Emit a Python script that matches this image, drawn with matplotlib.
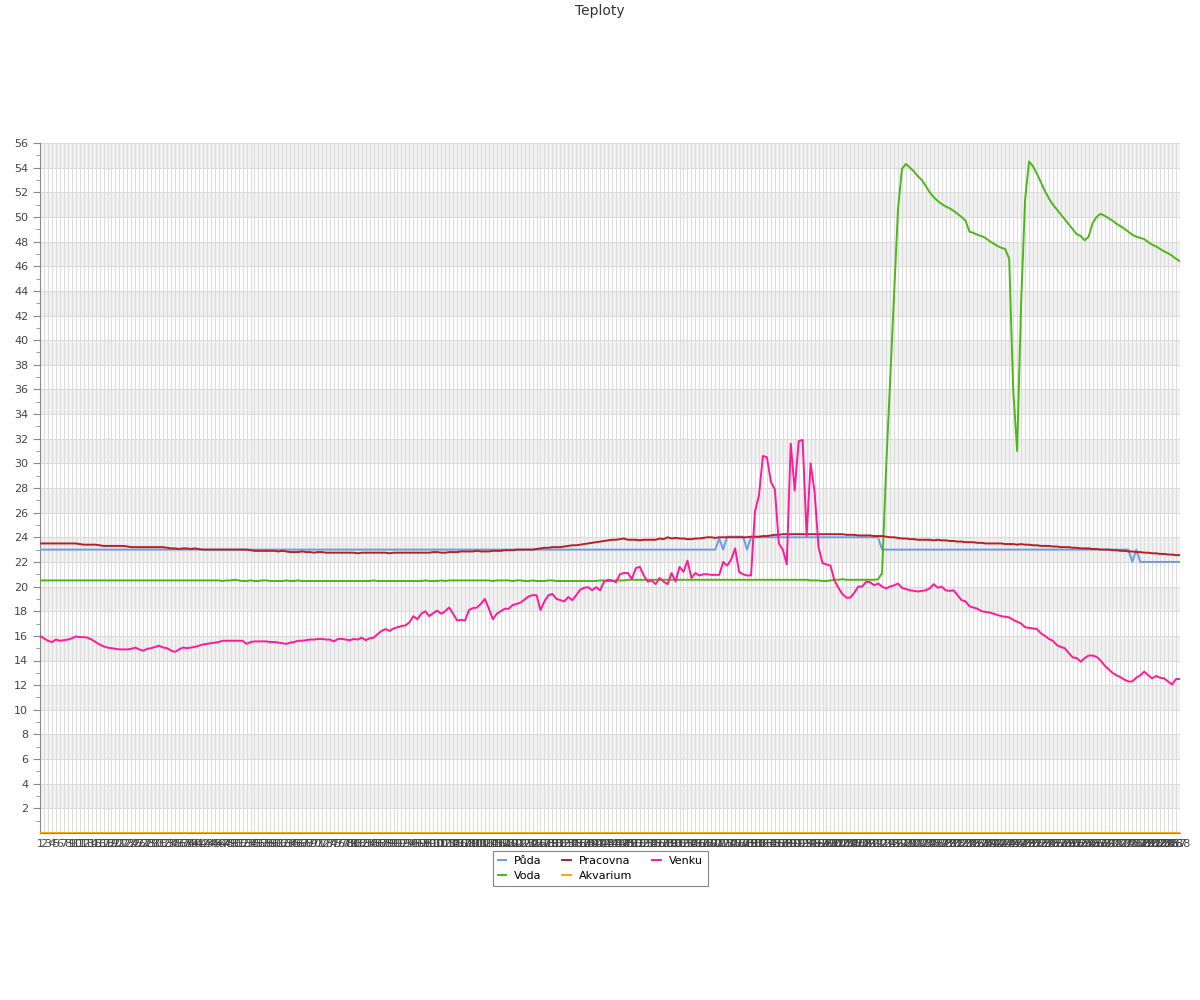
import matplotlib
matplotlib.use("Agg")
import matplotlib.pyplot as plt

# measurement index 1..288
labels = [str(i) for i in range(1, 289)]

# each row = 24 readings
puda = [
    23.0, 23.0, 23.0, 23.0, 23.0, 23.0, 23.0, 23.0, 23.0, 23.0, 23.0, 23.0, 23.0, 23.0, 23.0, 23.0, 23.0, 23.0, 23.0, 23.0, 23.0, 23.0, 23.0, 23.0,
    23.0, 23.0, 23.0, 23.0, 23.0, 23.0, 23.0, 23.0, 23.0, 23.0, 23.0, 23.0, 23.0, 23.0, 23.0, 23.0, 23.0, 23.0, 23.0, 23.0, 23.0, 23.0, 23.0, 23.0,
    23.0, 23.0, 23.0, 23.0, 23.0, 23.0, 23.0, 23.0, 23.0, 23.0, 23.0, 23.0, 23.0, 23.0, 23.0, 23.0, 23.0, 23.0, 23.0, 23.0, 23.0, 23.0, 23.0, 23.0,
    23.0, 23.0, 23.0, 23.0, 23.0, 23.0, 23.0, 23.0, 23.0, 23.0, 23.0, 23.0, 23.0, 23.0, 23.0, 23.0, 23.0, 23.0, 23.0, 23.0, 23.0, 23.0, 23.0, 23.0,
    23.0, 23.0, 23.0, 23.0, 23.0, 23.0, 23.0, 23.0, 23.0, 23.0, 23.0, 23.0, 23.0, 23.0, 23.0, 23.0, 23.0, 23.0, 23.0, 23.0, 23.0, 23.0, 23.0, 23.0,
    23.0, 23.0, 23.0, 23.0, 23.0, 23.0, 23.0, 23.0, 23.0, 23.0, 23.0, 23.0, 23.0, 23.0, 23.0, 23.0, 23.0, 23.0, 23.0, 23.0, 23.0, 23.0, 23.0, 23.0,
    23.0, 23.0, 23.0, 23.0, 23.0, 23.0, 23.0, 23.0, 23.0, 23.0, 23.0, 23.0, 23.0, 23.0, 23.0, 23.0, 23.0, 23.0, 23.0, 23.0, 23.0, 23.0, 23.0, 23.0,
    23.0, 23.0, 23.0, 23.9, 23.0, 24.05, 24.05, 24.05, 24.05, 24.05, 23.0, 24.0, 24.0, 24.0, 24.0, 24.0, 24.0, 24.0, 24.0, 24.0, 24.0, 24.0, 24.0, 24.0,
    24.0, 24.0, 24.0, 24.0, 24.0, 24.0, 24.0, 24.0, 24.0, 24.0, 24.0, 24.0, 24.0, 24.0, 24.0, 24.0, 24.0, 24.0, 24.0, 24.0, 23.0, 23.0, 23.0, 23.0,
    23.0, 23.0, 23.0, 23.0, 23.0, 23.0, 23.0, 23.0, 23.0, 23.0, 23.0, 23.0, 23.0, 23.0, 23.0, 23.0, 23.0, 23.0, 23.0, 23.0, 23.0, 23.0, 23.0, 23.0,
    23.0, 23.0, 23.0, 23.0, 23.0, 23.0, 23.0, 23.0, 23.0, 23.0, 23.0, 23.0, 23.0, 23.0, 23.0, 23.0, 23.0, 23.0, 23.0, 23.0, 23.0, 23.0, 23.0, 23.0,
    23.0, 23.0, 23.0, 23.0, 23.0, 23.0, 23.0, 23.0, 23.0, 23.0, 23.0, 22.0, 23.0, 22.0, 22.0, 22.0, 22.0, 22.0, 22.0, 22.0, 22.0, 22.0, 22.0, 22.0,
]

voda = [
    20.5, 20.5, 20.5, 20.5, 20.5, 20.5, 20.5, 20.5, 20.5, 20.5, 20.5, 20.5, 20.5, 20.5, 20.5, 20.5, 20.5, 20.5, 20.5, 20.5, 20.5, 20.5, 20.5, 20.5,
    20.5, 20.5, 20.5, 20.5, 20.5, 20.5, 20.5, 20.5, 20.5, 20.5, 20.5, 20.5, 20.5, 20.5, 20.5, 20.5, 20.5, 20.5, 20.5, 20.5, 20.5, 20.5, 20.45, 20.5,
    20.5, 20.55, 20.5, 20.45, 20.45, 20.5, 20.45, 20.45, 20.5, 20.5, 20.45, 20.45, 20.45, 20.45, 20.5, 20.45, 20.45, 20.5, 20.45, 20.45, 20.45, 20.45, 20.45, 20.45,
    20.45, 20.45, 20.45, 20.45, 20.45, 20.45, 20.45, 20.45, 20.45, 20.45, 20.45, 20.45, 20.5, 20.45, 20.45, 20.45, 20.45, 20.45, 20.45, 20.45, 20.45, 20.45, 20.45, 20.45,
    20.45, 20.5, 20.45, 20.45, 20.45, 20.5, 20.45, 20.5, 20.5, 20.5, 20.5, 20.5, 20.5, 20.5, 20.5, 20.5, 20.5, 20.5, 20.45, 20.5, 20.5, 20.5, 20.5, 20.45,
    20.5, 20.5, 20.45, 20.45, 20.5, 20.45, 20.45, 20.45, 20.5, 20.5, 20.45, 20.45, 20.45, 20.45, 20.45, 20.45, 20.45, 20.45, 20.45, 20.45, 20.45, 20.5, 20.5, 20.45,
    20.45, 20.5, 20.5, 20.5, 20.55, 20.55, 20.55, 20.55, 20.55, 20.55, 20.55, 20.55, 20.55, 20.55, 20.55, 20.55, 20.55, 20.55, 20.55, 20.55, 20.55, 20.55, 20.55, 20.55,
    20.55, 20.55, 20.55, 20.55, 20.55, 20.55, 20.55, 20.55, 20.55, 20.55, 20.55, 20.55, 20.55, 20.55, 20.55, 20.55, 20.55, 20.55, 20.55, 20.55, 20.55, 20.55, 20.55, 20.55,
    20.55, 20.55, 20.5, 20.5, 20.5, 20.45, 20.45, 20.5, 20.55, 20.55, 20.6, 20.55, 20.55, 20.55, 20.55, 20.55, 20.55, 20.55, 20.55, 20.6, 21.1, 29.5, 36.5, 43.5,
    50.6, 53.9, 54.3, 54.0, 53.7, 53.3, 53.0, 52.5, 52.0, 51.6, 51.3, 51.05, 50.85, 50.7, 50.5, 50.25, 50.0, 49.7, 48.8, 48.7, 48.55, 48.45, 48.3, 48.05,
    47.85, 47.65, 47.5, 47.4, 46.6, 36.0, 31.0, 43.0, 51.4, 54.5, 54.1, 53.5, 52.8, 52.1, 51.5, 51.0, 50.6, 50.2, 49.8, 49.4, 49.0, 48.6, 48.45, 48.1,
    48.4, 49.5, 50.0, 50.25, 50.1, 49.9, 49.7, 49.45, 49.25, 49.05, 48.8, 48.55, 48.4, 48.3, 48.2, 47.95, 47.75, 47.6, 47.4, 47.2, 47.05, 46.85, 46.6, 46.4,
]

pracovna = [
    23.5, 23.5, 23.5, 23.5, 23.5, 23.5, 23.5, 23.5, 23.5, 23.5, 23.45, 23.4, 23.4, 23.4, 23.4, 23.35, 23.3, 23.3, 23.3, 23.3, 23.3, 23.3, 23.25, 23.2,
    23.2, 23.2, 23.2, 23.2, 23.2, 23.2, 23.2, 23.2, 23.15, 23.1, 23.1, 23.05, 23.1, 23.1, 23.05, 23.1, 23.05, 23.0, 23.0, 23.0, 23.0, 23.0, 23.0, 23.0,
    23.0, 23.0, 23.0, 23.0, 23.0, 22.95, 22.9, 22.9, 22.9, 22.9, 22.9, 22.9, 22.85, 22.9, 22.85, 22.8, 22.8, 22.8, 22.85, 22.8, 22.8, 22.75, 22.8, 22.8,
    22.75, 22.75, 22.75, 22.75, 22.75, 22.75, 22.75, 22.75, 22.7, 22.75, 22.75, 22.75, 22.75, 22.75, 22.75, 22.75, 22.7, 22.75, 22.75, 22.75, 22.75, 22.75, 22.75, 22.75,
    22.75, 22.75, 22.75, 22.8, 22.8, 22.75, 22.75, 22.8, 22.8, 22.8, 22.85, 22.85, 22.85, 22.85, 22.9, 22.85, 22.85, 22.85, 22.9, 22.9, 22.9, 22.95, 22.95, 22.95,
    23.0, 23.0, 23.0, 23.0, 23.0, 23.05, 23.1, 23.15, 23.15, 23.2, 23.2, 23.2, 23.25, 23.3, 23.35, 23.35, 23.4, 23.45, 23.5, 23.55, 23.6, 23.65, 23.7, 23.75,
    23.8, 23.8, 23.85, 23.9, 23.8, 23.8, 23.8, 23.75, 23.8, 23.8, 23.8, 23.8, 23.9, 23.85, 24.0, 23.9, 23.95, 23.9, 23.9, 23.85, 23.85, 23.9, 23.9, 23.95,
    24.0, 24.0, 23.95, 24.0, 24.0, 24.0, 24.0, 24.0, 24.0, 24.0, 24.0, 24.05, 24.05, 24.05, 24.1, 24.1, 24.15, 24.2, 24.2, 24.25, 24.25, 24.25, 24.25, 24.25,
    24.25, 24.25, 24.25, 24.25, 24.25, 24.25, 24.25, 24.25, 24.25, 24.25, 24.25, 24.2, 24.2, 24.2, 24.15, 24.15, 24.15, 24.15, 24.1, 24.1, 24.1, 24.05, 24.0, 24.0,
    23.95, 23.9, 23.9, 23.85, 23.85, 23.8, 23.8, 23.8, 23.8, 23.75, 23.8, 23.75, 23.75, 23.7, 23.7, 23.65, 23.65, 23.6, 23.6, 23.6, 23.55, 23.55, 23.5, 23.5,
    23.5, 23.5, 23.5, 23.45, 23.45, 23.45, 23.4, 23.45, 23.4, 23.4, 23.35, 23.35, 23.3, 23.3, 23.3, 23.25, 23.25, 23.2, 23.2, 23.2, 23.15, 23.15, 23.1, 23.1,
    23.1, 23.05, 23.05, 23.0, 23.0, 23.0, 22.95, 22.95, 22.9, 22.9, 22.85, 22.85, 22.8, 22.8, 22.75, 22.75, 22.7, 22.7, 22.65, 22.65, 22.6, 22.6, 22.55, 22.55,
]

akvarium = [
    0.0, 0.0, 0.0, 0.0, 0.0, 0.0, 0.0, 0.0, 0.0, 0.0, 0.0, 0.0, 0.0, 0.0, 0.0, 0.0, 0.0, 0.0, 0.0, 0.0, 0.0, 0.0, 0.0, 0.0,
    0.0, 0.0, 0.0, 0.0, 0.0, 0.0, 0.0, 0.0, 0.0, 0.0, 0.0, 0.0, 0.0, 0.0, 0.0, 0.0, 0.0, 0.0, 0.0, 0.0, 0.0, 0.0, 0.0, 0.0,
    0.0, 0.0, 0.0, 0.0, 0.0, 0.0, 0.0, 0.0, 0.0, 0.0, 0.0, 0.0, 0.0, 0.0, 0.0, 0.0, 0.0, 0.0, 0.0, 0.0, 0.0, 0.0, 0.0, 0.0,
    0.0, 0.0, 0.0, 0.0, 0.0, 0.0, 0.0, 0.0, 0.0, 0.0, 0.0, 0.0, 0.0, 0.0, 0.0, 0.0, 0.0, 0.0, 0.0, 0.0, 0.0, 0.0, 0.0, 0.0,
    0.0, 0.0, 0.0, 0.0, 0.0, 0.0, 0.0, 0.0, 0.0, 0.0, 0.0, 0.0, 0.0, 0.0, 0.0, 0.0, 0.0, 0.0, 0.0, 0.0, 0.0, 0.0, 0.0, 0.0,
    0.0, 0.0, 0.0, 0.0, 0.0, 0.0, 0.0, 0.0, 0.0, 0.0, 0.0, 0.0, 0.0, 0.0, 0.0, 0.0, 0.0, 0.0, 0.0, 0.0, 0.0, 0.0, 0.0, 0.0,
    0.0, 0.0, 0.0, 0.0, 0.0, 0.0, 0.0, 0.0, 0.0, 0.0, 0.0, 0.0, 0.0, 0.0, 0.0, 0.0, 0.0, 0.0, 0.0, 0.0, 0.0, 0.0, 0.0, 0.0,
    0.0, 0.0, 0.0, 0.0, 0.0, 0.0, 0.0, 0.0, 0.0, 0.0, 0.0, 0.0, 0.0, 0.0, 0.0, 0.0, 0.0, 0.0, 0.0, 0.0, 0.0, 0.0, 0.0, 0.0,
    0.0, 0.0, 0.0, 0.0, 0.0, 0.0, 0.0, 0.0, 0.0, 0.0, 0.0, 0.0, 0.0, 0.0, 0.0, 0.0, 0.0, 0.0, 0.0, 0.0, 0.0, 0.0, 0.0, 0.0,
    0.0, 0.0, 0.0, 0.0, 0.0, 0.0, 0.0, 0.0, 0.0, 0.0, 0.0, 0.0, 0.0, 0.0, 0.0, 0.0, 0.0, 0.0, 0.0, 0.0, 0.0, 0.0, 0.0, 0.0,
    0.0, 0.0, 0.0, 0.0, 0.0, 0.0, 0.0, 0.0, 0.0, 0.0, 0.0, 0.0, 0.0, 0.0, 0.0, 0.0, 0.0, 0.0, 0.0, 0.0, 0.0, 0.0, 0.0, 0.0,
    0.0, 0.0, 0.0, 0.0, 0.0, 0.0, 0.0, 0.0, 0.0, 0.0, 0.0, 0.0, 0.0, 0.0, 0.0, 0.0, 0.0, 0.0, 0.0, 0.0, 0.0, 0.0, 0.0, 0.0,
]

venku = [
    16.0, 15.8, 15.6, 15.5, 15.7, 15.6, 15.65, 15.7, 15.8, 15.95, 15.9, 15.9, 15.85, 15.7, 15.5, 15.3, 15.15, 15.05, 15.0, 14.95, 14.9, 14.9, 14.9, 14.95,
    15.05, 14.9, 14.8, 14.95, 15.0, 15.1, 15.2, 15.05, 15.0, 14.8, 14.7, 14.9, 15.05, 15.0, 15.05, 15.1, 15.2, 15.3, 15.35, 15.4, 15.45, 15.5, 15.6, 15.6,
    15.6, 15.6, 15.6, 15.6, 15.35, 15.5, 15.55, 15.55, 15.55, 15.55, 15.5, 15.5, 15.45, 15.4, 15.35, 15.45, 15.5, 15.6, 15.6, 15.65, 15.7, 15.7, 15.75, 15.75,
    15.7, 15.7, 15.55, 15.75, 15.75, 15.7, 15.65, 15.75, 15.7, 15.85, 15.65, 15.8, 15.85, 16.15, 16.4, 16.55, 16.4, 16.6, 16.7, 16.8, 16.85, 17.1, 17.6, 17.35,
    17.8, 18.0, 17.6, 17.85, 18.05, 17.8, 18.0, 18.3, 17.8, 17.25, 17.3, 17.25, 18.1, 18.25, 18.3, 18.6, 19.0, 18.2, 17.35, 17.8, 18.0, 18.2, 18.2, 18.5,
    18.6, 18.7, 18.95, 19.2, 19.3, 19.3, 18.1, 18.8, 19.3, 19.4, 19.0, 18.9, 18.8, 19.15, 18.9, 19.3, 19.75, 19.9, 19.95, 19.7, 19.95, 19.7, 20.4, 20.55,
    20.5, 20.35, 21.0, 21.1, 21.1, 20.6, 21.5, 21.6, 20.9, 20.4, 20.5, 20.2, 20.7, 20.4, 20.2, 21.1, 20.4, 21.6, 21.2, 22.1, 20.7, 21.1, 20.9, 21.0,
    21.0, 20.95, 20.95, 20.95, 22.0, 21.7, 22.2, 23.1, 21.2, 21.0, 20.9, 20.9, 26.1, 27.4, 30.6, 30.5, 28.5, 27.9, 23.5, 23.0, 21.8, 31.6, 27.8, 31.8,
    31.9, 24.1, 30.0, 27.7, 23.2, 21.9, 21.8, 21.7, 20.5, 19.9, 19.4, 19.1, 19.1, 19.5, 20.0, 20.0, 20.4, 20.35, 20.1, 20.25, 20.0, 19.85, 20.0, 20.1,
    20.25, 19.9, 19.8, 19.7, 19.65, 19.6, 19.65, 19.7, 19.85, 20.2, 19.9, 20.0, 19.7, 19.65, 19.7, 19.3, 18.9, 18.8, 18.4, 18.3, 18.2, 18.0, 17.95, 17.9,
    17.8, 17.7, 17.6, 17.55, 17.5, 17.3, 17.15, 17.0, 16.7, 16.65, 16.6, 16.55, 16.2, 16.0, 15.75, 15.6, 15.25, 15.1, 15.0, 14.6, 14.25, 14.2, 13.9, 14.2,
    14.4, 14.4, 14.3, 14.0, 13.6, 13.3, 13.0, 12.8, 12.65, 12.45, 12.3, 12.3, 12.6, 12.8, 13.1, 12.8, 12.55, 12.75, 12.6, 12.55, 12.3, 12.05, 12.5, 12.5,
]

series = [
    ("Půda", puda, "#6c9be8"),
    ("Voda", voda, "#4cb816"),
    ("Pracovna", pracovna, "#b22222"),
    ("Akvarium", akvarium, "#ffa500"),
    ("Venku", venku, "#ff1a96"),
]

fig = plt.figure(figsize=(12, 10), dpi=100)
ax = fig.add_axes([40 / 1200, 167 / 1000, 1140 / 1200, 690 / 1000])

x = list(range(len(labels)))

# alternating horizontal bands
for lo in range(2, 56, 4):
    ax.axhspan(lo, lo + 2, color="#f2f2f2", zorder=0, lw=0)

for name, vals, col in series:
    ax.plot(x, vals, color=col, lw=1.4, label=name, zorder=3)

ax.set_xlim(0, len(labels) - 1)
ax.set_ylim(0, 56)
ax.set_xticks(x)
ax.set_xticklabels(labels, fontsize=8, color="#444")
ax.set_yticks(range(2, 57, 2))
ax.set_yticks(range(1, 56, 2), minor=True)
ax.tick_params(axis="y", labelsize=8, labelcolor="#444", color="#888", length=5)
ax.tick_params(axis="y", which="minor", color="#888", length=3)
ax.tick_params(axis="x", length=0, pad=4)
ax.grid(True, axis="both", color="#dcdcdc", lw=0.8, zorder=1)
ax.set_axisbelow(True)
for s in ["top", "right"]:
    ax.spines[s].set_visible(False)
for s in ["left", "bottom"]:
    ax.spines[s].set_color("#888")

fig.text(0.5, 0.989, "Teploty", ha="center", va="center", fontsize=10, color="#333")

leg = fig.legend(loc="upper center", bbox_to_anchor=(0.5, 0.149), ncol=3,
                 fontsize=8, frameon=True, fancybox=False, edgecolor="#666",
                 handlelength=0.8, handletextpad=0.7, columnspacing=1.8,
                 borderpad=0.45, labelspacing=0.45, borderaxespad=0)
leg.get_frame().set_linewidth(0.8)

fig.savefig("out.png", dpi=100)
